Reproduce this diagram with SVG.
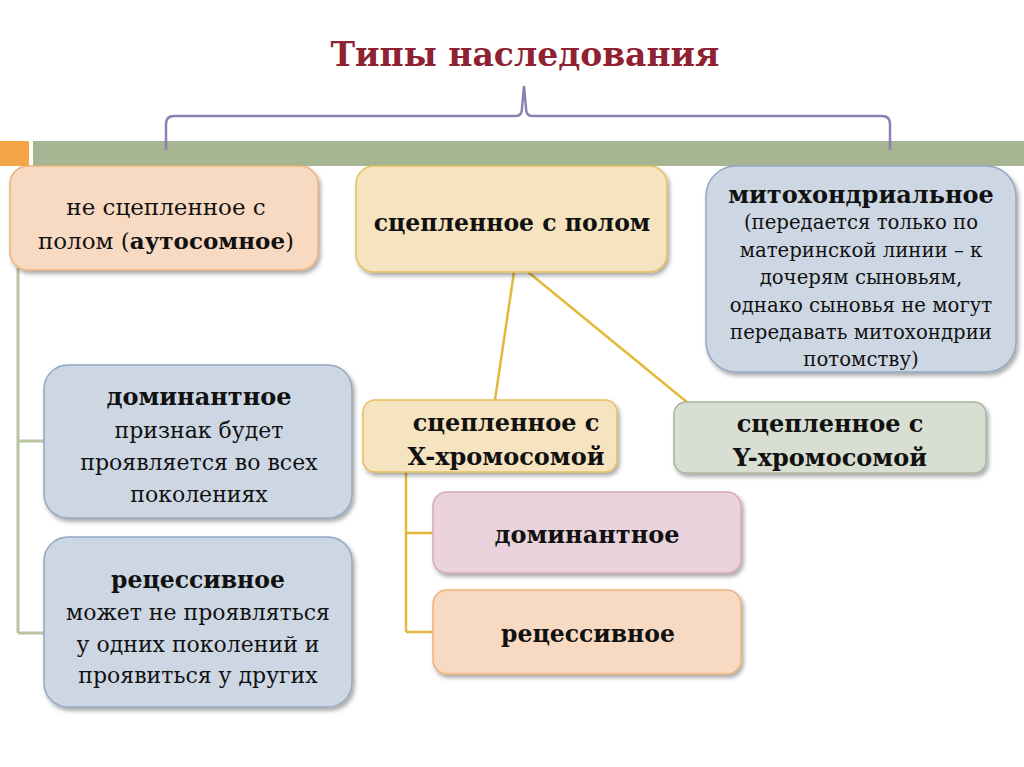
<svg xmlns="http://www.w3.org/2000/svg" width="1024" height="767" viewBox="0 0 1024 767">
<defs>
<filter id="sh" x="-10%" y="-10%" width="125%" height="130%">
<feDropShadow dx="2" dy="3" stdDeviation="2" flood-color="#000" flood-opacity="0.35"/>
</filter>
<style>
text{font-family:"DejaVu Serif","Liberation Serif",serif;fill:#111;text-anchor:middle}
.b{font-weight:bold}
.t{font-size:22px}
.a{font-size:23px}
.hb{font-size:23.5px;font-weight:bold}
.s{font-size:19.7px}
.h{font-size:24px;font-weight:bold}
.box{stroke-width:1.5;filter:url(#sh)}
.or{fill:#F8D9C2;stroke:#F0B27A}
.ye{fill:#F6E3BF;stroke:#E6C05E}
.bl{fill:#CDD7E4;stroke:#93A7C2}
.gr{fill:#D8DED1;stroke:#A9B59A}
.pk{fill:#EAD3DD;stroke:#D7A8BB}
.cg{stroke:#B7C5A2;stroke-width:3;fill:none}
.cy{stroke:#E2B93B;stroke-width:2.5;fill:none}
</style>
</defs>
<rect width="1024" height="767" fill="#fff"/>
<g id="title">
<text x="525" y="66" style="font-size:33px;font-weight:bold;fill:#8E2232">Типы наследования</text>
</g>
<g id="bars">
<rect x="0" y="141" width="29" height="25" fill="#F4A646"/>
<rect x="33" y="141" width="991" height="25" fill="#A6B592"/>
</g>
<g id="brace">
<path d="M166,150 L166,124 Q166,116 174,116 L516,116 Q522,116 522,108 L524,86 L526,108 Q526,116 532,116 L882,116 Q890,116 890,124 L890,150" fill="none" stroke="#8F7FB2" stroke-width="2.5"/>
</g>
<g id="connectors">
<path class="cg" d="M18,268 L18,633 M18,441 L44,441 M18,633 L44,633"/>
<path class="cy" d="M514,272 L495,400 M528,272 L688,403"/>
<path class="cy" d="M406,472 L406,632 M406,533 L433,533 M406,632 L433,632"/>
</g>
<g id="autosomal">
<rect class="box or" x="10" y="166" width="308" height="104" rx="18"/>
<text class="a" x="166" y="215">не сцепленное с</text>
<text class="a" x="166" y="249">полом (<tspan class="b">аутосомное</tspan>)</text>
</g>
<g id="sexlinked">
<rect class="box ye" x="356" y="166" width="311" height="106" rx="18"/>
<text class="hb" x="512" y="231">сцепленное с полом</text>
</g>
<g id="mito">
<rect class="box bl" x="706" y="166" width="310" height="206" rx="30"/>
<text class="h" x="861" y="203">митохондриальное</text>
<text class="s" x="861" y="229">(передается только по</text>
<text class="s" x="861" y="257">материнской линии – к</text>
<text class="s" x="861" y="284">дочерям  сыновьям,</text>
<text class="s" x="861" y="312">однако сыновья не могут</text>
<text class="s" x="861" y="339">передавать митохондрии</text>
<text class="s" x="861" y="366">потомству)</text>
</g>
<g id="dominant">
<rect class="box bl" x="44" y="365" width="308" height="153" rx="24"/>
<text class="h" x="199" y="405">доминантное</text>
<text class="t" x="199" y="438">признак будет</text>
<text class="t" x="199" y="470">проявляется во всех</text>
<text class="t" x="199" y="502">поколениях</text>
</g>
<g id="recessive">
<rect class="box bl" x="44" y="537" width="308" height="170" rx="24"/>
<text class="hb" x="198" y="588">рецессивное</text>
<text class="t" x="198" y="620">может не проявляться</text>
<text class="t" x="198" y="652">у одних поколений и</text>
<text class="t" x="198" y="683">проявиться у других</text>
</g>
<g id="xlinked">
<rect class="box ye" x="363" y="400" width="254" height="72" rx="12"/>
<text class="h" x="506" y="431">сцепленное с</text>
<text class="h" x="506" y="465">X-хромосомой</text>
</g>
<g id="ylinked">
<rect class="box gr" x="674" y="402" width="312" height="71" rx="12"/>
<text class="h" x="830" y="432">сцепленное с</text>
<text class="h" x="830" y="466">Y-хромосомой</text>
</g>
<g id="xdominant">
<rect class="box pk" x="433" y="492" width="308" height="81" rx="14"/>
<text class="h" x="587" y="543">доминантное</text>
</g>
<g id="xrecessive">
<rect class="box or" x="433" y="590" width="308" height="84" rx="14"/>
<text class="hb" x="588" y="642">рецессивное</text>
</g>
</svg>
